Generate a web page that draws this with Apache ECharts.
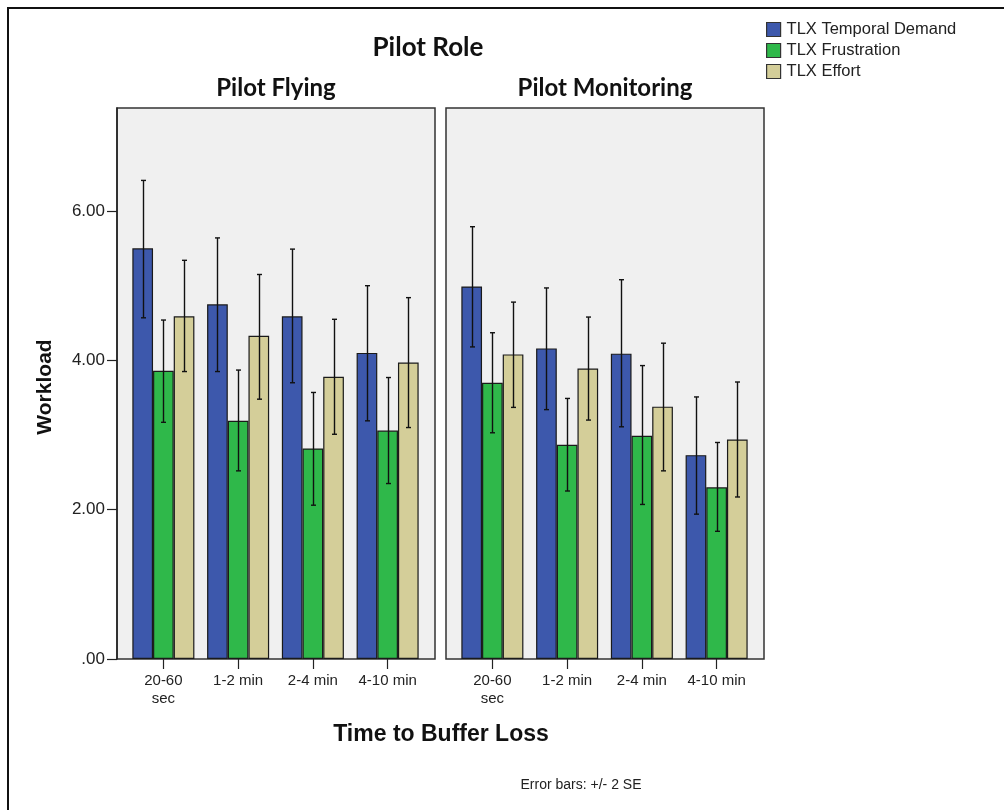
<!DOCTYPE html>
<html>
<head>
<meta charset="utf-8">
<script src="https://cdn.jsdelivr.net/npm/echarts@6/dist/echarts.min.js"></script>
<style>html,body{margin:0;padding:0;background:#fff;}#c{width:1004px;height:810px;}</style>
</head>
<body>
<div id="c"></div>
<script>
// ---- data ----
var categories = ['20-60\nsec', '1-2 min', '2-4 min', '4-10 min'];
var seriesNames = ['TLX Temporal Demand', 'TLX Frustration', 'TLX Effort'];
var yTicks = [0, 2, 4, 6];

// Pilot Flying
var pfTemporal = [5.50, 4.75, 4.59, 4.10];
var pfTemporalLo = [4.57, 3.85, 3.70, 3.19];
var pfTemporalHi = [6.41, 5.64, 5.49, 5.00];
var pfFrustration = [3.86, 3.19, 2.82, 3.06];
var pfFrustrationLo = [3.17, 2.52, 2.06, 2.35];
var pfFrustrationHi = [4.54, 3.87, 3.57, 3.77];
var pfEffort = [4.59, 4.33, 3.78, 3.97];
var pfEffortLo = [3.85, 3.48, 3.01, 3.10];
var pfEffortHi = [5.34, 5.15, 4.55, 4.84];

// Pilot Monitoring
var pmTemporal = [4.99, 4.16, 4.09, 2.73];
var pmTemporalLo = [4.18, 3.34, 3.11, 1.94];
var pmTemporalHi = [5.79, 4.97, 5.08, 3.51];
var pmFrustration = [3.70, 2.87, 2.99, 2.30];
var pmFrustrationLo = [3.03, 2.25, 2.07, 1.71];
var pmFrustrationHi = [4.37, 3.49, 3.93, 2.90];
var pmEffort = [4.08, 3.89, 3.38, 2.94];
var pmEffortLo = [3.37, 3.20, 2.52, 2.17];
var pmEffortHi = [4.78, 4.58, 4.23, 3.71];

var colors = ['#3d58ac', '#2fb84a', '#d4ce99'];
var GAP = 0.17;

function errData(lo, hi) {
  return lo.map(function (v, i) { return [i, v, hi[i]]; });
}
function makeErr(k) {
  return function (params, api) {
    var x = api.value(0), lo = api.value(1), hi = api.value(2);
    var pLo = api.coord([x, lo]), pHi = api.coord([x, hi]);
    var band = api.size([1, 0])[0];
    var bw = band * (1 - GAP) / 3;
    var cx = Math.round(pLo[0] + (k - 1) * bw) + 0.5;
    var cap = 2.5;
    var st = { stroke: '#111', lineWidth: 1.4 };
    return {
      type: 'group',
      children: [
        { type: 'line', shape: { x1: cx, y1: pHi[1], x2: cx, y2: pLo[1] }, style: st },
        { type: 'line', shape: { x1: cx - cap, y1: pHi[1], x2: cx + cap, y2: pHi[1] }, style: st },
        { type: 'line', shape: { x1: cx - cap, y1: pLo[1], x2: cx + cap, y2: pLo[1] }, style: st }
      ]
    };
  };
}

var panels = [
  { vals: [pfTemporal, pfFrustration, pfEffort], lo: [pfTemporalLo, pfFrustrationLo, pfEffortLo], hi: [pfTemporalHi, pfFrustrationHi, pfEffortHi] },
  { vals: [pmTemporal, pmFrustration, pmEffort], lo: [pmTemporalLo, pmFrustrationLo, pmEffortLo], hi: [pmTemporalHi, pmFrustrationHi, pmEffortHi] }
];

var series = [];
panels.forEach(function (p, g) {
  for (var k = 0; k < 3; k++) {
    series.push({
      type: 'bar', name: seriesNames[k], xAxisIndex: g, yAxisIndex: g,
      data: p.vals[k], barGap: '0%', barCategoryGap: (GAP * 100) + '%',
      itemStyle: { color: colors[k], borderColor: '#1a1a1a', borderWidth: 1.2 },
      emphasis: { disabled: true }, z: 2
    });
  }
  for (var k2 = 0; k2 < 3; k2++) {
    series.push({
      type: 'custom', xAxisIndex: g, yAxisIndex: g,
      data: errData(p.lo[k2], p.hi[k2]),
      encode: { x: 0, y: [1, 2] },
      renderItem: makeErr(k2), z: 5, silent: true
    });
  }
});

var fontA = '"Liberation Sans", Arial, sans-serif';
var fontC = 'Lato, "Open Sans", sans-serif';

function yAxis(g) {
  return {
    type: 'value', gridIndex: g, min: 0, max: 7.38, interval: 2, offset: 9,
    axisLine: { show: g === 0, lineStyle: { color: '#222', width: 1.5 } },
    axisTick: { show: g === 0, length: 10, customValues: yTicks, lineStyle: { color: '#222', width: 1.2 } },
    axisLabel: {
      show: g === 0, customValues: yTicks, margin: 12, color: '#222', fontFamily: fontA, fontSize: 17,
      formatter: function (v) { return v === 0 ? '.00' : v.toFixed(2); }
    },
    splitLine: { show: false }
  };
}
function xAxis(g) {
  return {
    type: 'category', gridIndex: g, data: categories,
    axisLine: { show: false },
    axisTick: { show: true, alignWithLabel: true, length: 10, lineStyle: { color: '#222', width: 1.2 } },
    axisLabel: { color: '#222', fontFamily: fontA, fontSize: 15, lineHeight: 18, margin: 13, interval: 0 }
  };
}

var chart = echarts.init(document.getElementById('c'), null, { renderer: 'canvas' });
chart.setOption({
  animation: false,
  backgroundColor: '#ffffff',
  grid: [
    { left: 126, top: 108, width: 299, height: 551 },
    { left: 455, top: 108, width: 299, height: 551 }
  ],
  xAxis: [xAxis(0), xAxis(1)],
  yAxis: [yAxis(0), yAxis(1)],
  legend: {
    data: seriesNames, orient: 'vertical', left: 761, top: 16,
    icon: 'rect', itemWidth: 14, itemHeight: 14, itemGap: 4,
    itemStyle: { borderColor: '#333', borderWidth: 1.2 },
    textStyle: { color: '#222', fontFamily: fontA, fontSize: 16.5, lineHeight: 17, padding: [0, 0, 0, 1] },
    selectedMode: false
  },
  graphic: [
    { type: 'rect', z: -1, shape: { x: 117, y: 108, width: 318, height: 551 }, style: { fill: '#f0f0f0', stroke: '#333', lineWidth: 1.5 } },
    { type: 'rect', z: -1, shape: { x: 446, y: 108, width: 318, height: 551 }, style: { fill: '#f0f0f0', stroke: '#333', lineWidth: 1.5 } },
    { type: 'line', shape: { x1: 7, y1: 8, x2: 1004, y2: 8 }, style: { stroke: '#111', lineWidth: 2 } },
    { type: 'line', shape: { x1: 8, y1: 7, x2: 8, y2: 810 }, style: { stroke: '#111', lineWidth: 2 } },
    { type: 'text', x: 428, y: 48, style: { text: 'Pilot Role', font: 'bold 26px ' + fontC, fill: '#111', align: 'center', verticalAlign: 'middle' } },
    { type: 'text', x: 276, y: 88, style: { text: 'Pilot Flying', font: 'bold 24px ' + fontC, fill: '#111', align: 'center', verticalAlign: 'middle' } },
    { type: 'text', x: 605, y: 88, style: { text: 'Pilot Monitoring', font: 'bold 24px ' + fontC, fill: '#111', align: 'center', verticalAlign: 'middle' } },
    { type: 'text', x: 45, y: 387, rotation: Math.PI / 2, style: { text: 'Workload', font: 'bold 21px ' + fontA, fill: '#111', align: 'center', verticalAlign: 'middle' } },
    { type: 'text', x: 441, y: 735, style: { text: 'Time to Buffer Loss', font: 'bold 23px ' + fontA, fill: '#111', align: 'center', verticalAlign: 'middle' } },
    { type: 'text', x: 581, y: 785, style: { text: 'Error bars: +/- 2 SE', font: '14px ' + fontA, fill: '#222', align: 'center', verticalAlign: 'middle' } }
  ],
  series: series
});
</script>
</body>
</html>
